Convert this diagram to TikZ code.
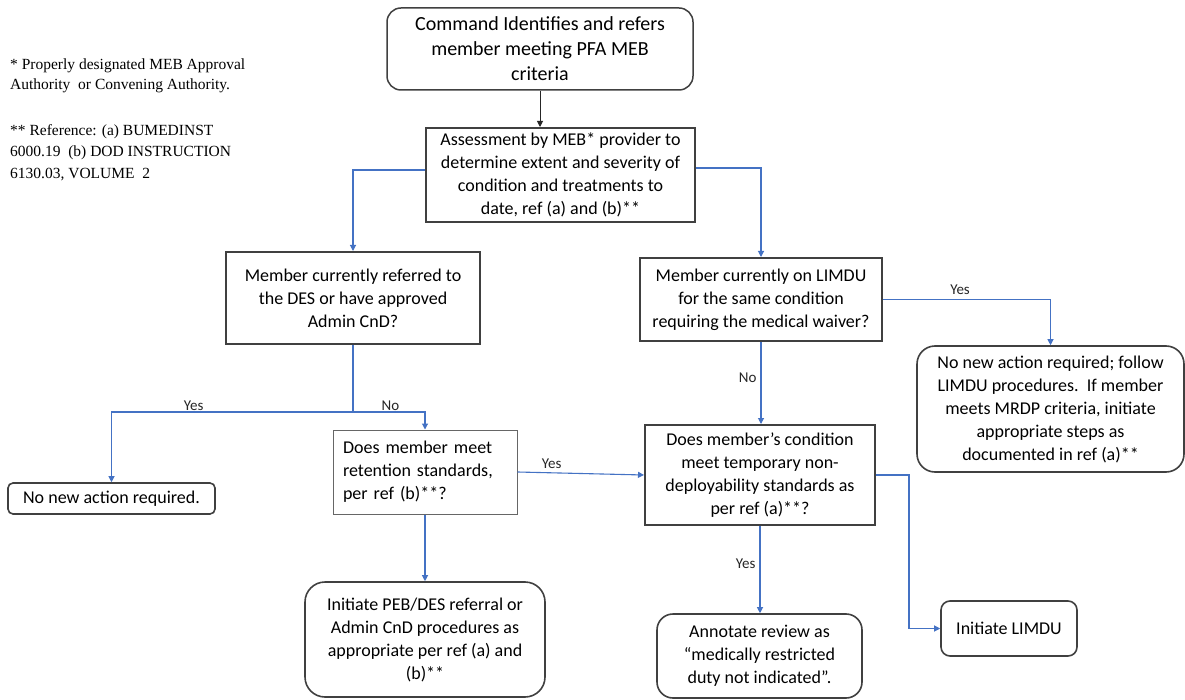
\documentclass[tikz,border=0pt]{standalone}
\usepackage{fontspec}
\setmainfont{Carlito}
\newfontfamily\notesfont{Liberation Serif}
\usetikzlibrary{arrows.meta}
\definecolor{conblue}{HTML}{4472C4}
\definecolor{boxgray}{HTML}{404040}
\begin{document}
\begin{tikzpicture}[x=1pt,y=-1pt,
  base/.style={draw=boxgray, align=center, inner sep=0pt, font=\fontsize{18}{23}\selectfont, text=black},
  thickbox/.style={base, line width=2pt},
  roundbox/.style={base, line width=1.6pt, rounded corners=14pt},
  thinbox/.style={base, line width=1pt, draw=black!60},
  conn/.style={draw=conblue, line width=1.1pt, -{Triangle[length=6pt,width=6pt]}},
  connline/.style={draw=conblue, line width=1.1pt},
  lbl/.style={font=\fontsize{15}{18}\selectfont, inner sep=1pt, text=black!85},
  blackarrow/.style={draw=black!85, line width=0.9pt, -{Triangle[length=6pt,width=6pt]}},
  note/.style={anchor=north west, inner sep=0pt, align=left, font=\notesfont\fontsize{15.5}{20}\selectfont}
]
\useasboundingbox (0,0) rectangle (1185,700);
\fill[white] (0,0) rectangle (1185,700);

% notes
\node[note] (n1) at (10,59) {* Properly designated MEB Approval\\Authority\ \ or Convening Authority.};
\node[note, font=\notesfont\fontsize{15.5}{21.5}\selectfont] (n2) at (10,124) {** Reference: (a) BUMEDINST\\6000.19\ \ (b) DOD INSTRUCTION\\6130.03, VOLUME\ \ 2};

% boxes
\node[roundbox, line width=1.5pt, minimum width=306pt, minimum height=82pt, font=\fontsize{20}{25}\selectfont] (top) at (540,49)
  {Command Identifies and refers\\member meeting PFA MEB\\criteria};
\node[thickbox, minimum width=269pt, minimum height=94pt] (assess) at (560.5,175)
  {Assessment by MEB* provider to\\determine extent and severity of\\condition and treatments to\\date, ref (a) and (b)**};
\node[thickbox, minimum width=254pt, minimum height=92pt] (box3) at (353,298)
  {Member currently referred to\\the DES or have approved\\Admin CnD?};
\node[thickbox, minimum width=242pt, minimum height=83pt] (box4) at (761,299.5)
  {Member currently on LIMDU\\for the same condition\\requiring the medical waiver?};
\node[roundbox, rounded corners=18pt, minimum width=267pt, minimum height=126pt] (box5) at (1050.5,409)
  {No new action required; follow\\LIMDU procedures.\ \ If member\\meets MRDP criteria, initiate\\appropriate steps as\\documented\ in ref (a)**};
\node[roundbox, rounded corners=5pt, minimum width=207pt, minimum height=31pt] (box6) at (111.5,498.5)
  {No new action required.};
\node[thinbox, align=left, text width=164pt, minimum width=184pt, minimum height=84pt] (box7) at (425,472)
  {Does member meet\\retention standards,\\per ref (b)**?};
\node[thickbox, minimum width=230pt, minimum height=100pt] (box8) at (760,475)
  {Does member’s condition\\meet temporary non-\\deployability\ standards as\\per ref (a)**?};
\node[roundbox, rounded corners=20pt, minimum width=240pt, minimum height=115pt] (box9) at (425,639.5)
  {Initiate PEB/DES referral or\\Admin CnD procedures as\\appropriate per ref (a) and\\(b)**};
\node[roundbox, rounded corners=16pt, minimum width=205pt, minimum height=84pt] (box10) at (759.5,656)
  {Annotate review as\\“medically restricted\\duty not indicated”.};
\node[roundbox, rounded corners=9pt, minimum width=136pt, minimum height=55pt] (box11) at (1009,628.5)
  {Initiate LIMDU};

% connectors
\draw[blackarrow] (top.south) -- (top.south |- assess.north);
\draw[conn] ([yshift=5pt]assess.west) -| (box3.north);
\draw[conn] ([yshift=7pt]assess.east) -| (box4.north);

\coordinate (s1) at (353,412);
\draw[connline] (box3.south) -- (s1);
\draw[conn] (s1) -| node[lbl, pos=0.33, above] {Yes} (box6.north);
\draw[conn] (s1) -| node[lbl, pos=0.26, above] {No} (box7.north);

\draw[conn] (box4.east) -| node[lbl, pos=0.23, above=3pt] {Yes} (box5.north);
\draw[conn] (box4.south) -- node[lbl, pos=0.43, left=3pt] {No} (box4.south |- box8.north);

\draw[conn] (box7.east) -- node[lbl, pos=0.27, above=3pt] {Yes} (box8.west);
\draw[conn] (box7.south) -- (box9.north);

\draw[conn] (box8.south) -- node[lbl, pos=0.43, left=3pt] {Yes} (box8.south |- box10.north);
\draw[conn] (box8.east) -- ++(33,0) |- (box11.west);
\end{tikzpicture}
\end{document}
